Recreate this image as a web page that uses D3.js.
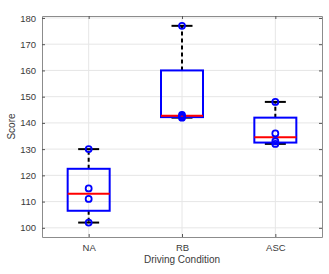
<!DOCTYPE html>
<html><head><meta charset="utf-8">
<script src="https://cdn.jsdelivr.net/npm/d3@7"></script>
<style>body{margin:0;background:#fff}svg{display:block}text{font-family:"Liberation Sans",Arial,sans-serif}</style>
</head><body>
<svg id="c" width="329" height="274"></svg>
<script>
const categories = ["NA", "RB", "ASC"];
const naScores = [102, 111, 115, 130];
const rbScores = [142, 142.4, 143, 177];
const ascScores = [132, 133, 136, 148];
const yTicks = [100, 110, 120, 130, 140, 150, 160, 170, 180];
const seriesList = [naScores, rbScores, ascScores];

// MATLAB-style percentile (prctile)
function prctile(s, p) {
  const n = s.length;
  const pos = p * n + 0.5; // 1-indexed
  if (pos <= 1) return s[0];
  if (pos >= n) return s[n - 1];
  const lo = Math.floor(pos), f = pos - lo;
  return s[lo - 1] + f * (s[lo] - s[lo - 1]);
}

const svg = d3.select("#c");
const L = 42, R = 322, T = 16, B = 237;
const x = d3.scaleLinear().domain([0.5, 3.5]).range([L, R]);
const y = d3.scaleLinear().domain([96.5, 180.75]).range([B, T]);
const axisCol = "#8c8c8c", gridCol = "#e6e6e6", textCol = "#3a3a3a";

// grid
svg.append("g").selectAll("line").data(yTicks).join("line")
  .attr("x1", L).attr("x2", R).attr("y1", d => y(d)).attr("y2", d => y(d))
  .attr("stroke", gridCol).attr("stroke-width", 1);
svg.append("g").selectAll("line").data(categories).join("line")
  .attr("x1", (d, i) => x(i + 1)).attr("x2", (d, i) => x(i + 1)).attr("y1", T).attr("y2", B)
  .attr("stroke", gridCol).attr("stroke-width", 1);

// axes
const xTickVals = [1, 2, 3];
const gx = svg.append("g").attr("transform", `translate(0,${B})`)
  .call(d3.axisBottom(x).tickValues(xTickVals).tickFormat((d) => categories[d - 1]).tickSizeInner(-3).tickSizeOuter(0).tickPadding(7));
const gxt = svg.append("g").attr("transform", `translate(0,${T})`)
  .call(d3.axisTop(x).tickValues(xTickVals).tickFormat("").tickSizeInner(-3).tickSizeOuter(0));
const gy = svg.append("g").attr("transform", `translate(${L},0)`)
  .call(d3.axisLeft(y).tickValues(yTicks).tickSizeInner(-3).tickSizeOuter(0).tickPadding(6));
const gyr = svg.append("g").attr("transform", `translate(${R},0)`)
  .call(d3.axisRight(y).tickValues(yTicks).tickFormat("").tickSizeInner(-3).tickSizeOuter(0));
[gx, gxt, gy, gyr].forEach(g => {
  g.select(".domain").attr("stroke", axisCol);
  g.selectAll(".tick line").attr("stroke", "#555");
  g.selectAll("text").attr("fill", textCol).attr("font-size", 9.5);
});

// boxes
const bw = 0.45, cw = 0.225;
seriesList.forEach((vals, i) => {
  const s = vals.slice().sort(d3.ascending);
  const q1 = prctile(s, 0.25), med = prctile(s, 0.5), q3 = prctile(s, 0.75);
  const lo = d3.min(s), hi = d3.max(s);
  const cx = i + 1;
  const g = svg.append("g");
  // whiskers
  [[q3, hi], [q1, lo]].forEach(([a, b]) => {
    g.append("line").attr("x1", x(cx)).attr("x2", x(cx)).attr("y1", y(a)).attr("y2", y(b))
      .attr("stroke", "#000").attr("stroke-width", 2).attr("stroke-dasharray", "4,3");
    g.append("line").attr("x1", x(cx - cw / 2)).attr("x2", x(cx + cw / 2)).attr("y1", y(b)).attr("y2", y(b))
      .attr("stroke", "#000").attr("stroke-width", 2);
  });
  g.append("rect").attr("x", x(cx - bw / 2)).attr("y", y(q3))
    .attr("width", x(cx + bw / 2) - x(cx - bw / 2)).attr("height", y(q1) - y(q3))
    .attr("fill", "none").attr("stroke", "#0000ff").attr("stroke-width", 2);
  g.append("line").attr("x1", x(cx - bw / 2)).attr("x2", x(cx + bw / 2)).attr("y1", y(med)).attr("y2", y(med))
    .attr("stroke", "#ff0000").attr("stroke-width", 2);
  g.selectAll("circle").data(s).join("circle")
    .attr("cx", x(cx)).attr("cy", d => y(d)).attr("r", 3)
    .attr("fill", "none").attr("stroke", "#0000ff").attr("stroke-width", 1.8);
});

// labels
svg.append("text").attr("x", (L + R) / 2).attr("y", 263).attr("text-anchor", "middle")
  .attr("font-size", 10).attr("fill", textCol).text("Driving Condition");
svg.append("text").attr("transform", `translate(15,${(T + B) / 2}) rotate(-90)`).attr("text-anchor", "middle")
  .attr("font-size", 10).attr("fill", textCol).text("Score");
</script>
</body></html>
